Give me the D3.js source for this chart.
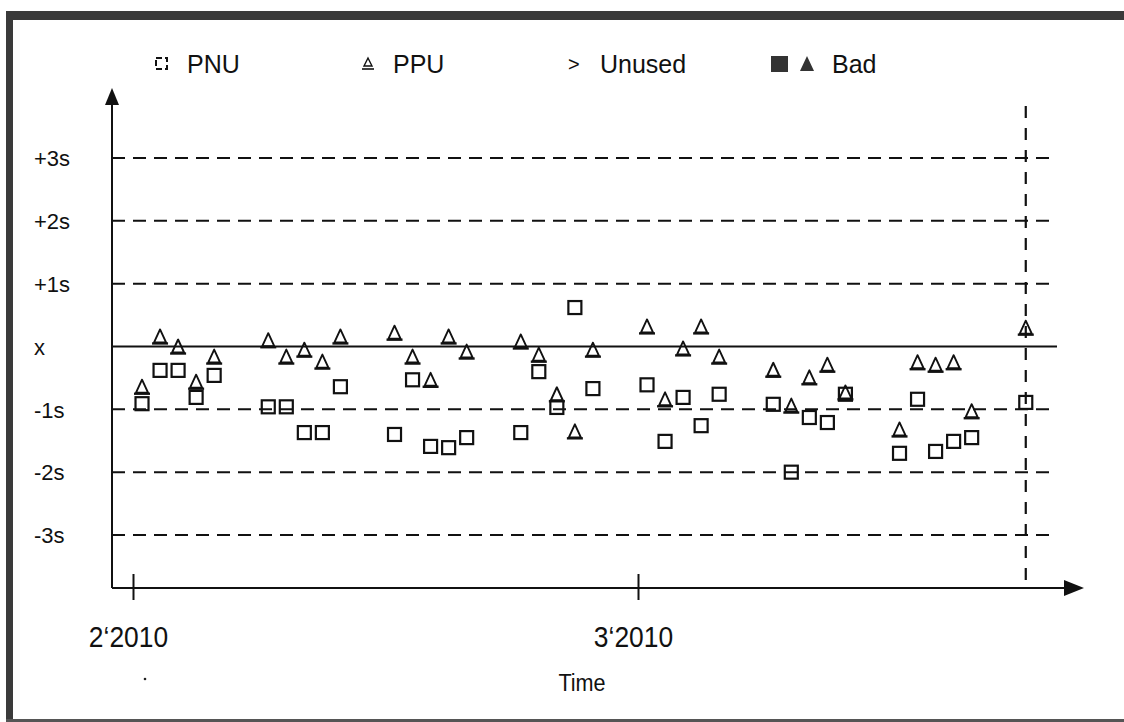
<!DOCTYPE html>
<html>
<head>
<meta charset="utf-8">
<script src="https://cdn.jsdelivr.net/npm/d3@7/dist/d3.min.js"></script>
<style>
  html, body { margin: 0; padding: 0; background: #fff; }
  svg { display: block; }
  text { font-family: "Liberation Sans", Arial, sans-serif; fill: #111; }
</style>
</head>
<body>
<svg id="chart" width="1124" height="722"></svg>
<script>
// ---- data ----
const dates = [
  "2010-02-01","2010-02-02","2010-02-03","2010-02-04","2010-02-05",
  "2010-02-08","2010-02-09","2010-02-10","2010-02-11","2010-02-12",
  "2010-02-15","2010-02-16","2010-02-17","2010-02-18","2010-02-19",
  "2010-02-22","2010-02-23","2010-02-24","2010-02-25","2010-02-26",
  "2010-03-01","2010-03-02","2010-03-03","2010-03-04","2010-03-05",
  "2010-03-08","2010-03-09","2010-03-10","2010-03-11","2010-03-12",
  "2010-03-15","2010-03-16","2010-03-17","2010-03-18","2010-03-19",
  "2010-03-22"
];
const pnu = [
  -0.91, -0.38, -0.38, -0.81, -0.46,
  -0.96, -0.96, -1.37, -1.37, -0.64,
  -1.40, -0.53, -1.59, -1.61, -1.45,
  -1.37, -0.40, -0.97,  0.62, -0.67,
  -0.61, -1.51, -0.81, -1.26, -0.76,
  -0.92, -2.00, -1.13, -1.21, -0.76,
  -1.70, -0.84, -1.67, -1.51, -1.45,
  -0.89
];
const ppu = [
  -0.64,  0.16,  0.00, -0.56, -0.16,
   0.10, -0.16, -0.05, -0.24,  0.16,
   0.22, -0.16, -0.53,  0.16, -0.08,
   0.08, -0.13, -0.76, -1.35, -0.05,
   0.32, -0.84, -0.03,  0.32, -0.16,
  -0.37, -0.94, -0.49, -0.29, -0.73,
  -1.32, -0.25, -0.29, -0.25, -1.03,
   0.30
];
const yTickValues = [3, 2, 1, 0, -1, -2, -3];
const yTickLabels = ["+3s", "+2s", "+1s", "x", "-1s", "-2s", "-3s"];
const xTickDates = ["2010-02-01", "2010-03-01"];
const xTickLabels = ["2\u20182010", "3\u20182010"];
const legendLabels = ["PNU", "PPU", "Unused", "Bad"];
const lastDate = "2010-03-22";

// ---- drawing ----
const svg = d3.select("#chart");
const ink = "#111";
const parse = d3.utcParse("%Y-%m-%d");
const noon = s => { const d = parse(s); return new Date(d.getTime() + 12 * 3600 * 1000); };

const x = d3.scaleUtc().domain([parse("2010-02-01"), parse("2010-03-01")]).range([133, 638]);
const y = d3.scaleLinear().domain([-3, 3]).range([535, 158]);

const axisX0 = 112, axisX1 = 1084, axisY = 588, axisTop = 88;

// frame
svg.append("rect").attr("x", 0).attr("y", 0).attr("width", 1124).attr("height", 722).attr("fill", "#fff");
svg.append("rect").attr("x", 6).attr("y", 11).attr("width", 1118).attr("height", 9).attr("fill", "#3a3a3a");
svg.append("rect").attr("x", 6).attr("y", 11).attr("width", 7).attr("height", 711).attr("fill", "#3a3a3a");
svg.append("rect").attr("x", 6).attr("y", 719).attr("width", 1118).attr("height", 3).attr("fill", "#555");

// horizontal grid lines
const grid = svg.append("g");
yTickValues.forEach(v => {
  grid.append("line")
    .attr("x1", axisX0).attr("x2", v === 0 ? 1057 : 1055)
    .attr("y1", y(v)).attr("y2", y(v))
    .attr("stroke", ink).attr("stroke-width", 2)
    .attr("stroke-dasharray", v === 0 ? null : "13,8");
});

// vertical dashed line at last date
svg.append("line")
  .attr("x1", x(noon(lastDate))).attr("x2", x(noon(lastDate)))
  .attr("y1", 106).attr("y2", axisY)
  .attr("stroke", ink).attr("stroke-width", 2.2)
  .attr("stroke-dasharray", "12,10");

// y axis labels
const yAxis = d3.axisLeft(y).tickValues(yTickValues).tickSize(0)
  .tickFormat((d, i) => yTickLabels[i]);
const yg = svg.append("g").attr("transform", `translate(${axisX0},0)`).call(yAxis);
yg.select(".domain").remove();
yg.selectAll("text")
  .attr("x", 34 - axisX0).attr("dy", "0.35em")
  .attr("text-anchor", "start")
  .style("font-size", "22px").attr("fill", ink);

// axes lines with arrows
svg.append("line").attr("x1", axisX0).attr("x2", axisX0).attr("y1", axisTop + 10).attr("y2", axisY)
  .attr("stroke", ink).attr("stroke-width", 2);
svg.append("path").attr("d", `M${axisX0},${axisTop} L${axisX0 - 7},${axisTop + 17} L${axisX0 + 7},${axisTop + 17} Z`)
  .attr("fill", ink);
svg.append("line").attr("x1", axisX0).attr("x2", axisX1 - 10).attr("y1", axisY).attr("y2", axisY)
  .attr("stroke", ink).attr("stroke-width", 2);
svg.append("path").attr("d", `M${axisX1},${axisY} L${axisX1 - 20},${axisY - 8} L${axisX1 - 20},${axisY + 8} Z`)
  .attr("fill", ink);

// x axis ticks & labels (slightly condensed like the reference's screen font)
const sx = 0.88;
const xAxis = d3.axisBottom(x).tickValues(xTickDates.map(parse)).tickSize(0)
  .tickFormat((d, i) => xTickLabels[i]);
const xg = svg.append("g").attr("transform", `translate(0,${axisY})`).call(xAxis);
xg.select(".domain").remove();
xg.selectAll(".tick line").attr("y1", -14).attr("y2", 12).attr("stroke", ink).attr("stroke-width", 2);
xg.selectAll(".tick text")
  .attr("x", -5 / sx).attr("y", 49).attr("dy", "0.35em")
  .attr("transform", `scale(${sx},1)`)
  .style("font-size", "30px").attr("fill", ink);

svg.append("text").attr("transform", `translate(582,683) scale(0.9,1)`)
  .attr("dy", "0.35em").attr("text-anchor", "middle")
  .style("font-size", "24px").text("Time");
svg.append("circle").attr("cx", 145).attr("cy", 679).attr("r", 1.3).attr("fill", "#222");

// markers
const pts = svg.append("g");
const sq = 13;
pts.selectAll("rect.pnu").data(dates).join("rect")
  .attr("class", "pnu")
  .attr("x", (d) => x(noon(d)) - sq / 2)
  .attr("y", (d, i) => y(pnu[i]) - sq / 2)
  .attr("width", sq).attr("height", sq)
  .attr("fill", "none").attr("stroke", ink).attr("stroke-width", 2.2);

const tri = (cx, cy) => `M${cx},${cy - 7} L${cx - 6},${cy + 6} L${cx + 6},${cy + 6} Z`;
const tg = pts.selectAll("g.ppu").data(dates).join("g").attr("class", "ppu");
tg.append("path")
  .attr("d", (d, i) => tri(x(noon(d)), y(ppu[i])))
  .attr("fill", "none").attr("stroke", ink).attr("stroke-width", 1.9).attr("stroke-linejoin", "round");
tg.append("line")
  .attr("x1", d => x(noon(d)) - 8).attr("x2", d => x(noon(d)) + 8)
  .attr("y1", (d, i) => y(ppu[i]) + 7).attr("y2", (d, i) => y(ppu[i]) + 7)
  .attr("stroke", ink).attr("stroke-width", 2.4);

// legend
const lg = svg.append("g");
const ly = 64;
const lfs = "25px";
lg.append("rect").attr("x", 156).attr("y", ly - 6).attr("width", 11).attr("height", 11)
  .attr("fill", "none").attr("stroke", ink).attr("stroke-width", 2).attr("stroke-dasharray", "6,3");
lg.append("text").attr("x", 187).attr("y", ly).attr("dy", "0.35em").style("font-size", lfs).text(legendLabels[0]);
lg.append("path").attr("d", `M368,${ly - 6} L364,${ly + 2} L372,${ly + 2} Z`).attr("fill", "none").attr("stroke", ink).attr("stroke-width", 1.4);
lg.append("line").attr("x1", 362).attr("x2", 374).attr("y1", ly + 5).attr("y2", ly + 5).attr("stroke", ink).attr("stroke-width", 1.6);
lg.append("text").attr("x", 393).attr("y", ly).attr("dy", "0.35em").style("font-size", lfs).text(legendLabels[1]);
lg.append("text").attr("x", 568).attr("y", ly).attr("dy", "0.35em").style("font-size", "20px").text(">");
lg.append("text").attr("x", 600).attr("y", ly).attr("dy", "0.35em").style("font-size", lfs).text(legendLabels[2]);
lg.append("rect").attr("x", 771).attr("y", ly - 8).attr("width", 17).attr("height", 16).attr("fill", "#333");
lg.append("path").attr("d", `M807,${ly - 8} L800,${ly + 7} L814,${ly + 7} Z`).attr("fill", "#333");
lg.append("text").attr("x", 832).attr("y", ly).attr("dy", "0.35em").style("font-size", lfs).text(legendLabels[3]);
</script>
</body>
</html>
